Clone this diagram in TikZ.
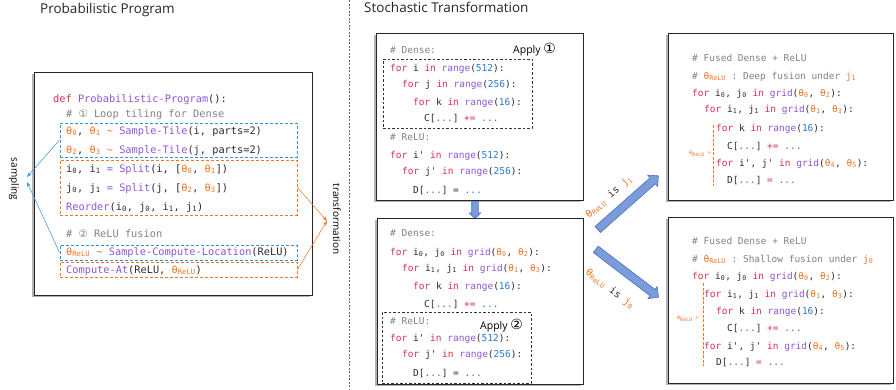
\documentclass[tikz,border=0pt]{standalone}
\usepackage{fontspec}
\setmainfont{Open Sans}
\setmonofont{DejaVu Sans Mono}
\newfontfamily\circfont{DejaVu Sans}
\usetikzlibrary{arrows.meta,shapes.arrows,shadows}

\definecolor{kwred}{RGB}{218,45,85}
\definecolor{fnpurple}{RGB}{140,88,214}
\definecolor{nmblue}{RGB}{38,120,212}
\definecolor{thorange}{RGB}{238,118,40}
\definecolor{cmgray}{RGB}{130,130,130}
\definecolor{txdark}{RGB}{45,45,45}
\definecolor{boxblue}{RGB}{52,146,216}
\definecolor{arrblue}{RGB}{122,156,218}
\definecolor{arredge}{RGB}{80,114,190}

\newcommand{\kw}[1]{\textcolor{kwred}{#1}}
\newcommand{\fn}[1]{\textcolor{fnpurple}{#1}}
\newcommand{\nm}[1]{\textcolor{nmblue}{#1}}
\newcommand{\cm}[1]{\textcolor{cmgray}{#1}}
\newcommand{\tht}[1]{\textcolor{thorange}{θ\textsubscript{#1}}}
\newcommand{\vr}[2]{#1\textsubscript{#2}}
\newcommand{\circnum}[1]{{\circfont #1}}
\newcommand{\applynum}[1]{{\circfont\fontsize{14}{14}\selectfont #1}}
\newcommand{\tld}{\textasciitilde}

\begin{document}
\begin{tikzpicture}[x=1pt,y=-1pt,
    title/.style={font=\fontsize{13.5}{16}\selectfont, text=black!85, anchor=base west, inner sep=0pt},
    lcode/.style={font=\ttfamily\fontsize{10.3}{12}\selectfont, text=txdark, anchor=base west, inner sep=0pt},
    mcode/.style={font=\ttfamily\fontsize{9.5}{11}\selectfont, text=txdark, anchor=base west, inner sep=0pt},
    side/.style={font=\ttfamily\fontsize{5}{6}\selectfont, text=thorange, anchor=east, inner sep=0pt},
    codebox/.style={draw=black!85, line width=1pt, fill=white, inner sep=0pt,
      drop shadow={shadow xshift=-2pt, shadow yshift=-2pt, fill=gray, opacity=.6}},
    bluebox/.style={draw=boxblue, line width=0.9pt, dash pattern=on 3pt off 2pt, inner sep=0pt},
    orangebox/.style={draw=thorange, line width=0.9pt, dash pattern=on 3pt off 2pt, inner sep=0pt},
    blkbox/.style={draw=black!80, line width=0.8pt, dash pattern=on 2.5pt off 2pt, inner sep=0pt},
    blockarrow/.style={single arrow, draw=arredge, fill=arrblue, line width=0.6pt, inner xsep=0pt,
      inner ysep=3.75pt, single arrow head extend=3.5pt, single arrow head indent=0pt},
    arrlabel/.style={font=\ttfamily\fontsize{10}{12}\selectfont, text=txdark, inner sep=0pt},
    apply/.style={font=\fontsize{10.5}{12}\selectfont, anchor=base west, inner sep=0pt},
    samparrow/.style={draw=boxblue, line width=0.5pt, -{Stealth[length=5pt,width=3.5pt]}},
    trfarrow/.style={draw=thorange, line width=0.5pt, -{Stealth[length=5pt,width=3.5pt]}}]
  \useasboundingbox (0,0) rectangle (896,389);

  \node[title] (ptitle) at (40,13) {Probabilistic Program};
  \node[title] (stitle) at (364,12) {Stochastic Transformation};
  \draw[black!60, line width=0.6pt, dash pattern=on 2pt off 1.5pt] (349,0) -- (349,389);

  \node[codebox, minimum width=278pt, minimum height=223pt] (prog) at (173,183.5) {};
  \node[bluebox, minimum width=237pt, minimum height=34pt] (tile) at (178.5,140) {};
  \node[orangebox, minimum width=237pt, minimum height=55pt] (split) at (178.5,187.5) {};
  \node[bluebox, minimum width=237pt, minimum height=15pt] (loc) at (178.5,252.5) {};
  \node[orangebox, minimum width=237pt, minimum height=15pt] (cat) at (178.5,269.5) {};

  \node[lcode] (def) at (53,102) {\kw{def} \fn{Probabilistic-Program}():};
  \node[lcode] (cmt1) at (66,117) {\cm{\# \circnum{①} Loop tiling for Dense}};
  \node[lcode] (tile0) at (66,134) {\tht{0}, \tht{1} \textcolor{thorange}{\tld} \fn{Sample-Tile}(i, parts=2)};
  \node[lcode] (tile1) at (66,153) {\tht{2}, \tht{3} \textcolor{thorange}{\tld} \fn{Sample-Tile}(j, parts=2)};
  \node[lcode] (split0) at (66,172) {\vr{i}{0}, \vr{i}{1} \fn{=} \fn{Split}(i, [\tht{0}, \tht{1}])};
  \node[lcode] (split1) at (66,191) {\vr{j}{0}, \vr{j}{1} \fn{=} \fn{Split}(j, [\tht{2}, \tht{3}])};
  \node[lcode] (reord) at (66,210) {\fn{Reorder}(\vr{i}{0}, \vr{j}{0}, \vr{i}{1}, \vr{j}{1})};
  \node[lcode] (cmt2) at (66,237) {\cm{\# \circnum{②} ReLU fusion}};
  \node[lcode] (locline) at (66,255) {\textcolor{thorange}{θ\textsubscript{ReLU} \tld} \fn{Sample-Compute-Location}(ReLU)};
  \node[lcode] (catline) at (66,273) {\fn{Compute-At}(ReLU, \tht{ReLU})};

  \node[font=\fontsize{10}{12}\selectfont, rotate=-90, inner sep=0pt] (sampling) at (14,179) {sampling};
  \coordinate (smpa) at (27,177);
  \coordinate (smpb) at (27,182);
  \draw[samparrow] (tile.west) -- (smpa);
  \draw[samparrow] (loc.west) -- (smpb);
  \node[font=\fontsize{10}{12}\selectfont, rotate=-90, inner sep=0pt] (transf) at (337,219) {transformation};
  \coordinate (trf) at (327,221);
  \draw[trfarrow] (split.east) -- (trf);
  \draw[trfarrow] (cat.east) -- (trf);

  \node[codebox, minimum width=207pt, minimum height=167pt] (orig) at (479.5,116.5) {};
  \node[blkbox, minimum width=149pt, minimum height=69pt] (dense1) at (457.5,93.5) {};
  \node[mcode] (dn1) at (390,53) {\cm{\# Dense:}};
  \node[apply] (apply1) at (513,53) {Apply \applynum{①}};
  \node[mcode] (fi1) at (390,71) {\kw{for} i \kw{in} \fn{range}(\nm{512}):};
  \node[mcode] (fj1) at (402,87) {\kw{for} j \kw{in} \fn{range}(\nm{256}):};
  \node[mcode] (fk1) at (413,105) {\kw{for} k \kw{in} \fn{range}(\nm{16}):};
  \node[mcode] (c1) at (424,121) {C[\nm{...}] \kw{+=} \nm{...}};
  \node[mcode] (rl1) at (390,140) {\cm{\# ReLU:}};
  \node[mcode] (fip1) at (390,158) {\kw{for} i' \kw{in} \fn{range}(\nm{512}):};
  \node[mcode] (fjp1) at (402,174) {\kw{for} j' \kw{in} \fn{range}(\nm{256}):};
  \node[mcode] (d1) at (413,193) {D[\nm{...}] = \nm{...}};

  \node[blockarrow, inner ysep=3pt, single arrow head extend=2.5pt, minimum height=17pt, rotate=-90] (down) at (475,208.5) {};

  \node[codebox, minimum width=206pt, minimum height=166pt] (tiled) at (480,301) {};
  \node[blkbox, minimum width=149pt, minimum height=71pt] (relu2) at (456.5,347.5) {};
  \node[mcode] (dn2) at (390,236) {\cm{\# Dense:}};
  \node[mcode] (fi2) at (390,255) {\kw{for} \vr{i}{0}, \vr{j}{0} \kw{in} \fn{grid}(\tht{0}, \tht{2}):};
  \node[mcode] (fj2) at (402,271) {\kw{for} \vr{i}{1}, \vr{j}{1} \kw{in} \fn{grid}(\tht{1}, \tht{3}):};
  \node[mcode] (fk2) at (413,289) {\kw{for} k \kw{in} \fn{range}(\nm{16}):};
  \node[mcode] (c2) at (424,307) {C[\nm{...}] \kw{+=} \nm{...}};
  \node[mcode] (rl2) at (390,324) {\cm{\# ReLU:}};
  \node[apply] (apply2) at (480,329) {Apply \applynum{②}};
  \node[mcode] (fip2) at (390,341) {\kw{for} i' \kw{in} \fn{range}(\nm{512}):};
  \node[mcode] (fjp2) at (402,357) {\kw{for} j' \kw{in} \fn{range}(\nm{256}):};
  \node[mcode] (d2) at (413,376) {D[\nm{...}] =  \nm{...}};

  \node[blockarrow, minimum height=81pt, rotate=41.5] (deep) at (626.5,204) {};
  \node[blockarrow, minimum height=79pt, rotate=-37.3] (shallow) at (625.5,272) {};
  \node[arrlabel, rotate=41.5] (deeptxt) at (609,197) {\tht{ReLU} is \textcolor{thorange}{\vr{j}{1}}};
  \node[arrlabel, rotate=-37.3] (shallowtxt) at (610,289) {\tht{ReLU} is \textcolor{thorange}{\vr{j}{0}}};

  \node[codebox, minimum width=225pt, minimum height=167pt] (deepbox) at (780.5,116.5) {};
  \node[mcode] (fu1) at (692,61) {\cm{\# Fused Dense + ReLU}};
  \node[mcode] (dc1) at (692,79) {\cm{\# \tht{ReLU} : Deep fusion under \textcolor{thorange}{\vr{j}{1}}}};
  \node[mcode] (gi3) at (692,96) {\kw{for} \vr{i}{0}, \vr{j}{0} \kw{in} \fn{grid}(\tht{0}, \tht{2}):};
  \node[mcode] (gj3) at (704,112) {\kw{for} \vr{i}{1}, \vr{j}{1} \kw{in} \fn{grid}(\tht{1}, \tht{3}):};
  \node[mcode] (fk3) at (716,131) {\kw{for} k \kw{in} \fn{range}(\nm{16}):};
  \node[mcode] (c3) at (727,149) {C[\nm{...}] \kw{+=} \nm{...}};
  \node[mcode] (gp3) at (716,166) {\kw{for} i', j' \kw{in} \fn{grid}(\tht{4}, \tht{5}):};
  \node[mcode] (d3) at (727,183) {D[\nm{...}] \kw{=} \nm{...}};
  \draw[draw=thorange, line width=0.8pt, dash pattern=on 3pt off 1.5pt] (713,125) -- (713,186);
  \node[side] (side3) at (711,154) {θ\textsubscript{ReLU} =};

  \node[codebox, minimum width=225pt, minimum height=166pt] (shalbox) at (780.5,300) {};
  \node[mcode] (fu4) at (692,244) {\cm{\# Fused Dense + ReLU}};
  \node[mcode] (dc4) at (692,262) {\cm{\# \tht{ReLU} : Shallow fusion under \textcolor{thorange}{\vr{j}{0}}}};
  \node[mcode] (gi4) at (692,279) {\kw{for} \vr{i}{0}, \vr{j}{0} \kw{in} \fn{grid}(\tht{0}, \tht{2}):};
  \node[mcode] (gj4) at (704,297) {\kw{for} \vr{i}{1}, \vr{j}{1} \kw{in} \fn{grid}(\tht{1}, \tht{3}):};
  \node[mcode] (fk4) at (716,314) {\kw{for} k \kw{in} \fn{range}(\nm{16}):};
  \node[mcode] (c4) at (727,331) {C[\nm{...}] \kw{+=} \nm{...}};
  \node[mcode] (gp4) at (704,349) {\kw{for} i', j' \kw{in} \fn{grid}(\tht{4}, \tht{5}):};
  \node[mcode] (d4) at (716,365) {D[\nm{...}] \kw{=} \nm{...}};
  \draw[draw=thorange, line width=0.8pt, dash pattern=on 3pt off 1.5pt] (703,283) -- (703,366);
  \node[side] (side4) at (699,319) {θ\textsubscript{ReLU} =};
\end{tikzpicture}
\end{document}
